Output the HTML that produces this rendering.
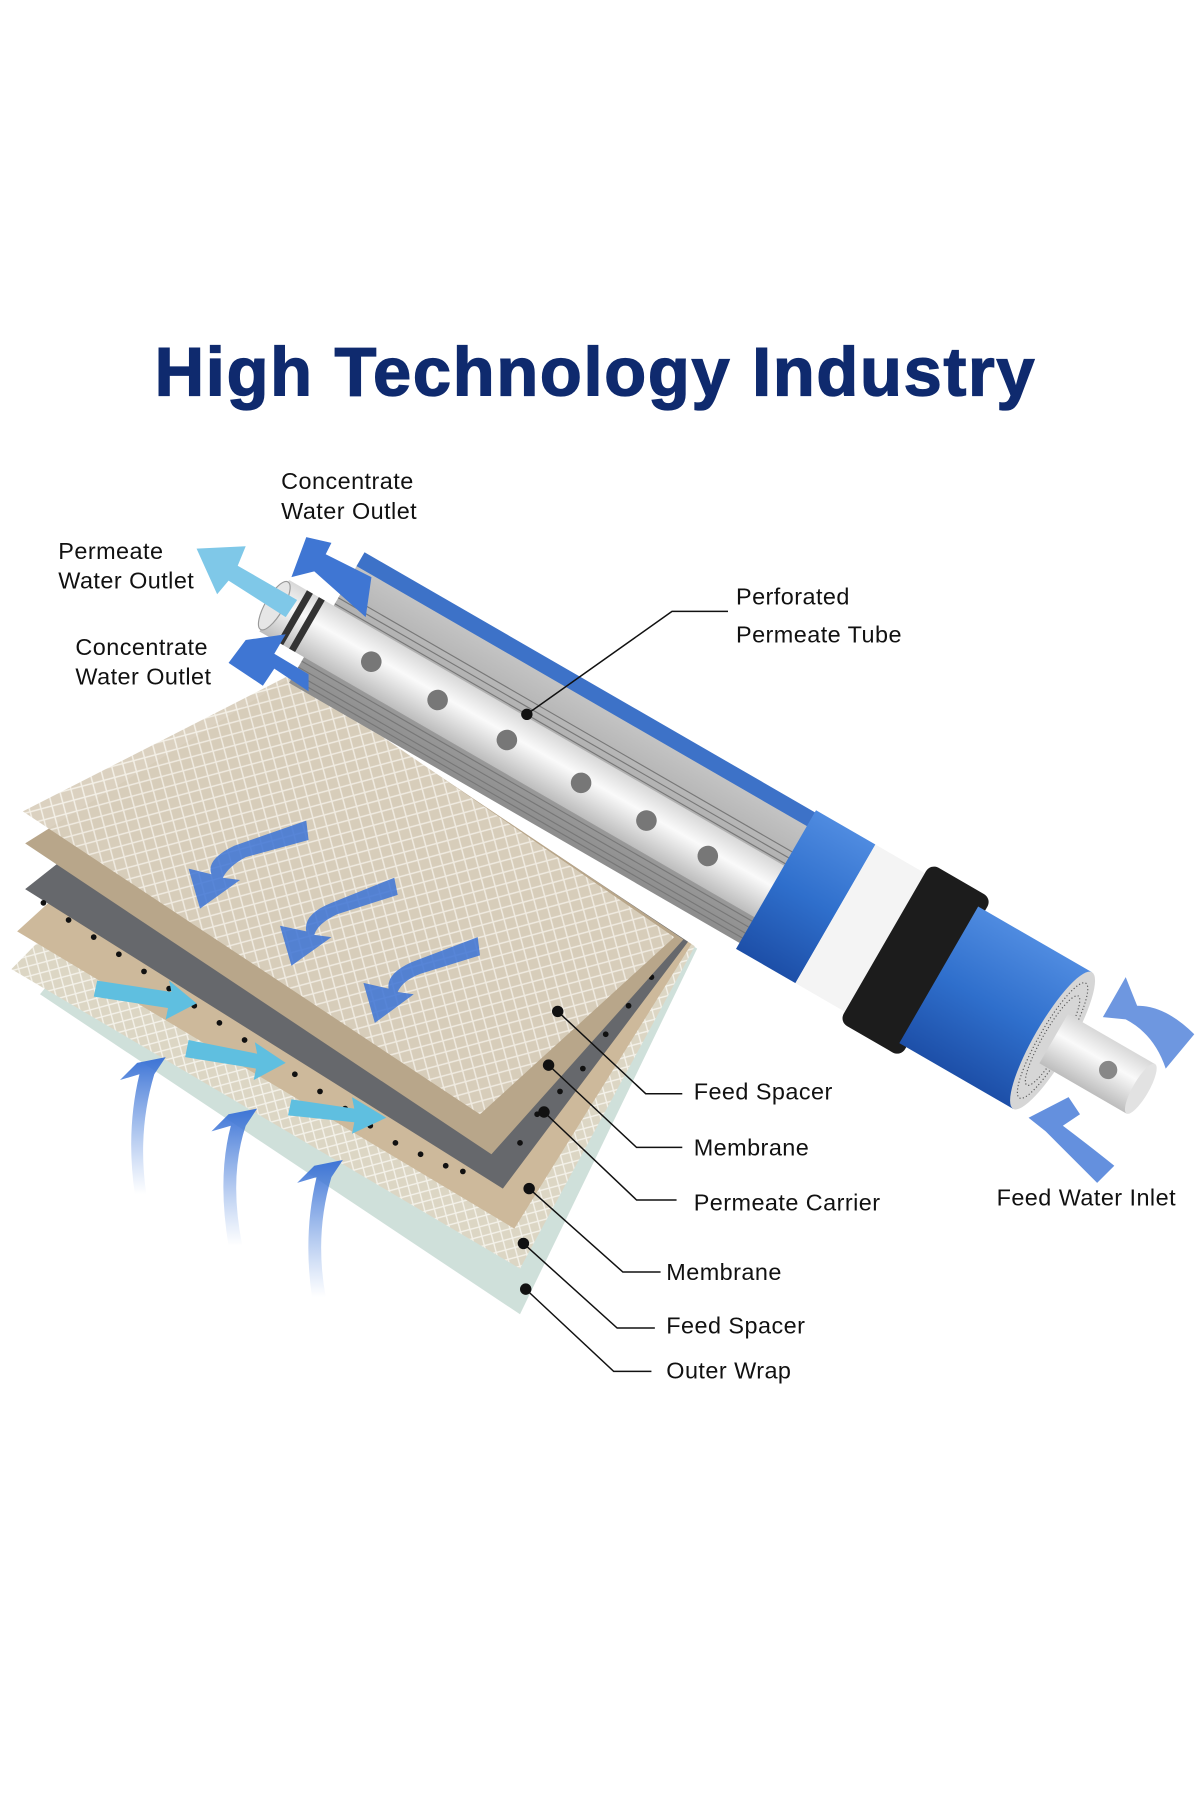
<!DOCTYPE html>
<html><head><meta charset="utf-8"><style>
html,body{margin:0;padding:0;background:#fff;}
svg{display:block;}
text{font-family:"Liberation Sans",sans-serif;}
</style></head><body>
<svg width="1200" height="1800" viewBox="0 0 1050 1575" xmlns="http://www.w3.org/2000/svg">
<defs>
<pattern id="mesh" width="14" height="14" patternUnits="userSpaceOnUse" patternTransform="rotate(30)">
<rect width="14" height="14" fill="#d9cfbd"/>
<path d="M0 0L14 14M14 0L0 14" stroke="#f3efe6" stroke-width="1.3"/>
</pattern>
<pattern id="mesh2" width="12" height="12" patternUnits="userSpaceOnUse" patternTransform="rotate(30)">
<rect width="12" height="12" fill="#dcd6c4"/>
<path d="M0 0L12 12M12 0L0 12" stroke="#f4f2ea" stroke-width="1.2"/>
</pattern>
<linearGradient id="blueg" x1="0" y1="0" x2="0" y2="1">
<stop offset="0" stop-color="#4f8be0"/><stop offset="0.5" stop-color="#2f6fcc"/><stop offset="1" stop-color="#1d4fa8"/>
</linearGradient>
<linearGradient id="grayg" x1="0" y1="0" x2="0" y2="1">
<stop offset="0" stop-color="#c9c9c9"/><stop offset="1" stop-color="#8d8d8d"/>
</linearGradient>
<linearGradient id="whiteg" x1="0" y1="0" x2="0" y2="1">
<stop offset="0" stop-color="#d8d8d8"/><stop offset="0.4" stop-color="#fafafa"/><stop offset="1" stop-color="#bdbdbd"/>
</linearGradient>
<linearGradient id="arrg" x1="0" y1="1" x2="0" y2="0">
<stop offset="0" stop-color="#5b8de0" stop-opacity="0"/><stop offset="1" stop-color="#3d74d6"/>
</linearGradient>
</defs>
<rect width="1050" height="1575" fill="#fff"/>
<text x="521" y="346" text-anchor="middle" font-size="60" font-weight="bold" fill="#0f2a6e" letter-spacing="1.5" stroke="#0f2a6e" stroke-width="1.2">High Technology Industry</text>

<!-- layers -->
<polygon points="35,870 255,600 610,830 455,1150" fill="#cfe0da"/>
<polygon points="10,848 255,598 608,828 455,1110" fill="url(#mesh2)"/>
<polygon points="15,815 255,596 605,826 450,1075" fill="#cdb99b"/>
<polygon points="22,778 255,594 602,824 440,1040" fill="#66686c"/>
<g fill="#111">
<circle cx="38" cy="790" r="2.5"/><circle cx="60" cy="805" r="2.5"/><circle cx="82" cy="820" r="2.5"/><circle cx="104" cy="835" r="2.5"/><circle cx="126" cy="850" r="2.5"/><circle cx="148" cy="865" r="2.5"/><circle cx="170" cy="880" r="2.5"/><circle cx="192" cy="895" r="2.5"/><circle cx="214" cy="910" r="2.5"/><circle cx="236" cy="925" r="2.5"/><circle cx="258" cy="940" r="2.5"/><circle cx="280" cy="955" r="2.5"/><circle cx="302" cy="970" r="2.5"/><circle cx="324" cy="985" r="2.5"/><circle cx="346" cy="1000" r="2.5"/><circle cx="368" cy="1010" r="2.5"/><circle cx="390" cy="1020" r="2.5"/><circle cx="405" cy="1025" r="2.5"/>
<circle cx="455" cy="1000" r="2.5"/><circle cx="470" cy="975" r="2.5"/><circle cx="490" cy="955" r="2.5"/><circle cx="510" cy="935" r="2.5"/><circle cx="530" cy="905" r="2.5"/><circle cx="550" cy="880" r="2.5"/><circle cx="570" cy="855" r="2.5"/>
</g>
<polygon points="22,738 255,592 598,822 430,1010" fill="#b8a68a"/>
<polygon points="20,710 255,590 590,820 420,975" fill="url(#mesh)" opacity="0.95"/>

<!-- tube -->
<g transform="translate(240,530) rotate(30)">
<rect x="45" y="-78" width="470" height="130" fill="url(#grayg)"/>
<g stroke="#777" stroke-width="1">
<line x1="45" y1="-40" x2="515" y2="-40"/><line x1="45" y1="-34" x2="515" y2="-34"/><line x1="45" y1="-28" x2="515" y2="-28"/>
<line x1="45" y1="30" x2="515" y2="30"/><line x1="45" y1="36" x2="515" y2="36"/><line x1="45" y1="42" x2="515" y2="42"/><line x1="45" y1="47" x2="515" y2="47"/>
</g>
<rect x="45" y="-80" width="470" height="14" fill="#3d72c8"/>
<rect x="0" y="-26" width="515" height="52" fill="url(#whiteg)"/>
<ellipse cx="0" cy="0" rx="8" ry="24" fill="#e6e6e6" stroke="#999"/>
<rect x="18" y="-26" width="6" height="52" fill="#333"/><rect x="30" y="-26" width="6" height="52" fill="#333"/>
<g fill="#777">
<ellipse cx="98" cy="0" rx="9" ry="9"/><ellipse cx="165" cy="0" rx="9" ry="9"/><ellipse cx="235" cy="0" rx="9" ry="9"/><ellipse cx="310" cy="0" rx="9" ry="9"/><ellipse cx="376" cy="0" rx="9" ry="9"/><ellipse cx="438" cy="0" rx="9" ry="9"/>
</g>
<rect x="500" y="-82" width="60" height="140" fill="url(#blueg)"/>
<rect x="560" y="-82" width="50" height="140" fill="#f4f4f4"/>
<rect x="610" y="-92" width="62" height="160" rx="8" fill="#1c1c1c"/>
<rect x="665" y="-80" width="115" height="138" fill="url(#blueg)"/>
<ellipse cx="780" cy="-11" rx="16" ry="69" fill="#d6d6d6"/>
<ellipse cx="780" cy="-11" rx="12" ry="58" fill="none" stroke="#555" stroke-dasharray="1 2"/>
<ellipse cx="780" cy="-11" rx="9" ry="45" fill="none" stroke="#555" stroke-dasharray="1 2"/>
<rect x="780" y="-38" width="88" height="50" fill="url(#whiteg)"/>
<ellipse cx="868" cy="-13" rx="7" ry="25" fill="#e2e2e2"/>
<circle cx="835" cy="-13" r="8" fill="#888"/>
</g>

<!-- arrows -->
<g fill="url(#arrg)">
<path d="M215,560 L200,580 L230,600 L240,585 L270,605 L270,590 L240,572 L250,555 Z" fill="#3f76d3"/>
<path d="M215,478 L172,480 L190,520 L200,508 L250,540 L260,525 L208,495 Z" fill="#7fc8e8"/>
<path d="M268,470 L255,505 L275,500 L320,540 L325,505 L285,485 L290,475 Z" fill="#3f76d3"/>
<path d="M120,930 L145,925 L135,940 Q120,990 128,1045 L118,1045 Q110,990 122,940 L105,945 Z"/>
<path d="M200,975 L225,970 L215,985 Q200,1030 212,1090 L200,1090 Q190,1030 202,985 L185,990 Z"/>
<path d="M275,1020 L300,1015 L290,1030 Q275,1080 285,1135 L273,1135 Q265,1080 277,1030 L260,1035 Z"/>
</g>
<g fill="#3d74d6" opacity="0.85">
<path d="M268,718 L205,740 Q180,752 185,765 L165,760 L175,795 L210,770 L195,768 Q200,758 215,750 L270,735 Z"/>
<path d="M345,768 L290,790 Q265,800 268,815 L245,810 L255,845 L290,820 L275,818 Q278,808 295,800 L348,783 Z"/>
<path d="M418,820 L360,842 Q338,852 340,865 L318,860 L328,895 L362,870 L348,868 Q352,858 368,852 L420,836 Z"/>
</g>
<g fill="#5fbfe0">
<path d="M85,858 L150,868 L148,858 L172,878 L145,892 L147,882 L82,872 Z"/>
<path d="M165,910 L225,922 L223,912 L250,930 L222,945 L224,935 L162,925 Z"/>
<path d="M255,962 L310,970 L308,960 L338,978 L308,992 L310,982 L252,976 Z"/>
</g>
<g fill="#3d74d6">
<path d="M985,855 L965,890 L985,892 Q1010,905 1020,935 L1045,905 Q1020,880 995,880 Z" opacity="0.75"/>
<path d="M935,960 L900,978 L915,990 Q935,1010 960,1035 L975,1020 Q950,1000 930,985 L945,975 Z" opacity="0.8"/>
</g>

<!-- leaders -->
<g stroke="#111" stroke-width="1.3" fill="none">
<polyline points="461,625 588,535 637,535"/>
<polyline points="488,885 565,957 597,957"/>
<polyline points="480,932 557,1004 597,1004"/>
<polyline points="476,973 557,1050 592,1050"/>
<polyline points="463,1040 545,1113 578,1113"/>
<polyline points="458,1088 540,1162 573,1162"/>
<polyline points="460,1128 537,1200 570,1200"/>
</g>
<g fill="#111">
<circle cx="461" cy="625" r="5"/><circle cx="488" cy="885" r="5"/><circle cx="480" cy="932" r="5"/><circle cx="476" cy="973" r="5"/><circle cx="463" cy="1040" r="5"/><circle cx="458" cy="1088" r="5"/><circle cx="460" cy="1128" r="5"/>
</g>
<g font-size="20.5" fill="#111" letter-spacing="0.4">
<text x="246" y="428">Concentrate</text><text x="246" y="454">Water Outlet</text>
<text x="51" y="489">Permeate</text><text x="51" y="515">Water Outlet</text>
<text x="66" y="573">Concentrate</text><text x="66" y="599">Water Outlet</text>
<text x="644" y="529">Perforated</text><text x="644" y="562">Permeate Tube</text>
<text x="607" y="962">Feed Spacer</text>
<text x="607" y="1011">Membrane</text>
<text x="607" y="1059">Permeate Carrier</text>
<text x="583" y="1120">Membrane</text>
<text x="583" y="1167">Feed Spacer</text>
<text x="583" y="1206">Outer Wrap</text>
<text x="872" y="1055">Feed Water Inlet</text>
</g>
</svg>
</body></html>
